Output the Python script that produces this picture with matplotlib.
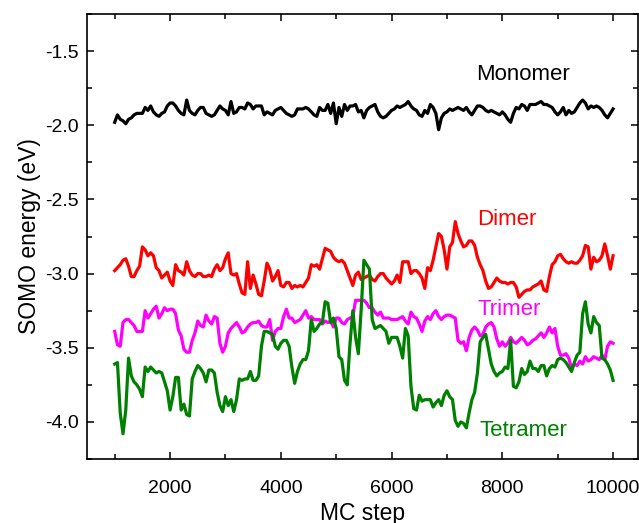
import numpy as np
import matplotlib
matplotlib.use("Agg")
import matplotlib.pyplot as plt
from matplotlib.ticker import MultipleLocator, FormatStrFormatter

plt.rcParams['font.family'] = ['Liberation Sans', 'DejaVu Sans']

# MC steps, every 50 from 1000 to 10000
steps = np.arange(1000, 10001, 50)

monomer = [
    -1.98, -1.93, -1.96, -1.97, -1.99, -1.96, -1.95, -1.93, -1.92, -1.92,
    -1.92, -1.88, -1.90, -1.87, -1.91, -1.93, -1.94, -1.92, -1.91, -1.87,
    -1.85, -1.85, -1.87, -1.90, -1.92, -1.93, -1.83, -1.90, -1.92, -1.93,
    -1.90, -1.88, -1.88, -1.92, -1.93, -1.94, -1.93, -1.90, -1.87, -1.89,
    -1.90, -1.93, -1.84, -1.92, -1.91, -1.88, -1.88, -1.89, -1.85, -1.86,
    -1.89, -1.87, -1.87, -1.87, -1.93, -1.91, -1.92, -1.93, -1.90, -1.89,
    -1.88, -1.90, -1.92, -1.93, -1.94, -1.93, -1.89, -1.89, -1.89, -1.88,
    -1.89, -1.91, -1.93, -1.94, -1.88, -1.90, -1.90, -1.86, -1.92, -1.85,
    -1.99, -1.88, -1.94, -1.86, -1.90, -1.87, -1.87, -1.86, -1.91,
    -1.90, -1.95, -1.90, -1.88, -1.87, -1.86, -1.91, -1.94, -1.95, -1.94,
    -1.92, -1.90, -1.89, -1.87, -1.88, -1.87, -1.86, -1.84, -1.87, -1.89,
    -1.90, -1.93, -1.94, -1.90, -1.92, -1.86, -1.88, -1.92, -2.03, -1.95,
    -1.92, -1.91, -1.89, -1.90, -1.89, -1.88, -1.89, -1.90, -1.88, -1.91,
    -1.93, -1.90, -1.87, -1.87, -1.88, -1.90, -1.91, -1.90, -1.91, -1.92,
    -1.93, -1.91, -1.93, -1.96, -1.98, -1.92, -1.88, -1.89, -1.86, -1.87,
    -1.90, -1.86, -1.86, -1.86, -1.85, -1.84, -1.86, -1.86, -1.87, -1.88,
    -1.91, -1.93, -1.91, -1.88, -1.93, -1.90, -1.92, -1.91, -1.88, -1.85,
    -1.83, -1.85, -1.89, -1.87, -1.88, -1.87, -1.88, -1.90, -1.93, -1.95,
    -1.92, -1.89,
]

dimer = [
    -2.98, -2.96, -2.94, -2.91, -2.90, -2.95, -3.02, -3.02, -2.98, -2.95,
    -2.82, -2.84, -2.88, -2.86, -2.88, -2.96, -2.98, -3.03, -3.01, -2.99,
    -3.05, -3.08, -2.94, -2.98, -2.99, -3.01, -2.92, -2.98, -3.01, -3.02,
    -3.00, -3.00, -3.02, -3.02, -3.01, -3.02, -2.97, -2.94, -2.98, -2.96,
    -2.90, -2.86, -3.00, -3.01, -3.00, -3.07, -3.13, -3.14, -2.92, -3.10,
    -3.01, -3.07, -3.14, -3.15, -3.05, -2.93, -2.97, -3.05, -3.02, -2.98,
    -3.08, -3.09, -3.06, -3.06, -3.10, -3.08, -3.09, -3.08, -3.09, -3.06,
    -3.03, -2.94, -2.95, -2.94, -2.97, -2.90, -2.83, -2.84, -2.85, -2.89,
    -2.91, -2.92, -2.91, -2.93, -2.98, -3.03, -3.08, -3.01, -2.99,
    -3.04, -3.03, -3.02, -3.01, -3.04, -3.05, -3.02, -3.00, -3.00, -3.03,
    -3.05, -3.07, -3.05, -3.01, -3.06, -2.92, -2.92, -2.92, -3.00, -2.98,
    -2.98, -3.00, -3.03, -3.10, -2.96, -2.98, -2.91, -2.82, -2.73, -2.75,
    -2.84, -2.97, -2.82, -2.79, -2.65, -2.73, -2.78, -2.82, -2.81, -2.78,
    -2.78, -2.81, -2.89, -2.94, -2.98, -3.05, -3.10, -3.09, -3.06, -3.03,
    -3.05, -3.06, -3.06, -3.07, -3.06, -3.06, -3.09, -3.16, -3.14, -3.12,
    -3.11, -3.11, -3.09, -3.08, -3.07, -3.05, -3.11, -3.12, -3.02, -2.94,
    -2.92, -2.88, -2.87, -2.90, -2.92, -2.93, -2.92, -2.93, -2.93, -2.91,
    -2.88, -2.81, -2.82, -2.97, -2.89, -2.92, -2.91, -2.88, -2.80, -2.88,
    -2.97, -2.88,
]

trimer = [
    -3.39, -3.48, -3.49, -3.33, -3.31, -3.31, -3.33, -3.35, -3.39, -3.39,
    -3.39, -3.25, -3.30, -3.27, -3.24, -3.22, -3.30, -3.27, -3.23, -3.25,
    -3.24, -3.24, -3.27, -3.38, -3.42, -3.51, -3.53, -3.53, -3.45, -3.40,
    -3.32, -3.35, -3.36, -3.28, -3.32, -3.34, -3.29, -3.30, -3.47, -3.53,
    -3.49, -3.40, -3.37, -3.35, -3.33, -3.36, -3.40, -3.39, -3.36, -3.34,
    -3.33, -3.33, -3.32, -3.35, -3.36, -3.36, -3.31, -3.45, -3.39, -3.37,
    -3.37, -3.29, -3.24, -3.30, -3.30, -3.33, -3.32, -3.31, -3.28, -3.25,
    -3.30, -3.29, -3.31, -3.31, -3.31, -3.34, -3.32, -3.33, -3.32, -3.36,
    -3.30, -3.30, -3.33, -3.34, -3.31, -3.30, -3.29, -3.18, -3.18,
    -3.18, -3.18, -3.20, -3.23, -3.23, -3.26, -3.28, -3.26, -3.30, -3.30,
    -3.30, -3.31, -3.31, -3.31, -3.30, -3.29, -3.32, -3.34, -3.26, -3.29,
    -3.30, -3.34, -3.39, -3.32, -3.29, -3.31, -3.27, -3.25, -3.29, -3.31,
    -3.29, -3.28, -3.28, -3.29, -3.30, -3.45, -3.47, -3.46, -3.52, -3.43,
    -3.38, -3.36, -3.38, -3.42, -3.41, -3.36, -3.34, -3.33, -3.36, -3.44,
    -3.49, -3.46, -3.49, -3.47, -3.43, -3.46, -3.47, -3.45, -3.43, -3.45,
    -3.48, -3.47, -3.45, -3.44, -3.42, -3.40, -3.43, -3.40, -3.36, -3.40,
    -3.37, -3.49, -3.55, -3.55, -3.54, -3.57, -3.64, -3.61, -3.62, -3.59,
    -3.61, -3.56, -3.59, -3.58, -3.56, -3.57, -3.58, -3.55, -3.58, -3.49,
    -3.46, -3.47,
]

tetramer = [
    -3.61, -3.60, -3.94, -4.08, -3.92, -3.57, -3.69, -3.73, -3.75, -3.78,
    -3.83, -3.63, -3.66, -3.63, -3.65, -3.67, -3.66, -3.67, -3.73, -3.79,
    -3.92, -3.83, -3.70, -3.70, -3.92, -3.88, -3.95, -3.96, -3.71, -3.66,
    -3.62, -3.64, -3.67, -3.73, -3.65, -3.65, -3.67, -3.80, -3.89, -3.93,
    -3.83, -3.89, -3.85, -3.93, -3.85, -3.71, -3.72, -3.71, -3.71, -3.66,
    -3.72, -3.72, -3.69, -3.49, -3.39, -3.39, -3.40, -3.41, -3.49, -3.51,
    -3.47, -3.45, -3.45, -3.49, -3.63, -3.74, -3.66, -3.61, -3.58, -3.58,
    -3.52, -3.31, -3.39, -3.37, -3.34, -3.33, -3.19, -3.20, -3.33, -3.30,
    -3.37, -3.56, -3.58, -3.72, -3.75, -3.47, -3.25, -3.43, -3.54,
    -3.25, -2.91, -2.94, -2.97, -3.31, -3.37, -3.36, -3.35, -3.37, -3.39,
    -3.47, -3.43, -3.43, -3.43, -3.49, -3.57, -3.37, -3.42, -3.76, -3.91,
    -3.92, -3.82, -3.86, -3.85, -3.85, -3.85, -3.90, -3.87, -3.85, -3.89,
    -3.82, -3.79, -3.83, -3.85, -3.99, -4.03, -4.00, -4.01, -4.04, -3.94,
    -3.85, -3.80, -3.67, -3.46, -3.43, -3.41, -3.51, -3.61, -3.66, -3.69,
    -3.67, -3.66, -3.63, -3.64, -3.45, -3.76, -3.77, -3.73, -3.64, -3.68,
    -3.66, -3.59, -3.64, -3.64, -3.66, -3.62, -3.62, -3.69, -3.64, -3.62,
    -3.63, -3.58, -3.57, -3.58, -3.60, -3.63, -3.66, -3.60, -3.55, -3.53,
    -3.27, -3.19, -3.34, -3.40, -3.29, -3.33, -3.35, -3.57, -3.58, -3.61,
    -3.65, -3.72,
]

for s in (monomer, dimer, trimer, tetramer):
    assert len(s) == len(steps), len(s)

fig = plt.figure(figsize=(6.39, 5.23), dpi=100)
ax = fig.add_axes([87 / 639, 1 - 459 / 523, 551 / 639, 445 / 523])

lw = 2.3
ax.plot(steps, monomer, color='black', lw=lw)
ax.plot(steps, dimer, color='red', lw=lw)
ax.plot(steps, trimer, color='#ff00ff', lw=lw)
ax.plot(steps, tetramer, color='green', lw=lw)

fs = 16
ax.text(8380, -1.66, 'Monomer', color='black', fontsize=fs, ha='center', va='center')
ax.text(8080, -2.635, 'Dimer', color='red', fontsize=fs, ha='center', va='center')
ax.text(8120, -3.245, 'Trimer', color='#ff00ff', fontsize=fs, ha='center', va='center')
ax.text(8380, -4.055, 'Tetramer', color='green', fontsize=fs, ha='center', va='center')

ax.set_xlim(500, 10450)
ax.set_ylim(-4.25, -1.25)
ax.xaxis.set_major_locator(MultipleLocator(2000))
ax.xaxis.set_minor_locator(MultipleLocator(1000))
ax.yaxis.set_major_locator(MultipleLocator(0.5))
ax.yaxis.set_minor_locator(MultipleLocator(0.25))
ax.yaxis.set_major_formatter(FormatStrFormatter('%.1f'))
ax.tick_params(which='both', direction='in', top=True, right=True, labelsize=14, width=1.1)
ax.tick_params(which='major', length=5)
ax.tick_params(which='minor', length=3.3)
ax.tick_params(axis='x', which='major', pad=15)
ax.tick_params(axis='y', which='major', pad=6)
for sp in ax.spines.values():
    sp.set_linewidth(1.2)

ax.set_xlabel('MC step', fontsize=16.5, labelpad=4)
ax.set_ylabel('SOMO energy (eV)', fontsize=16.5, labelpad=3)

fig.savefig('out.png', dpi=100)
